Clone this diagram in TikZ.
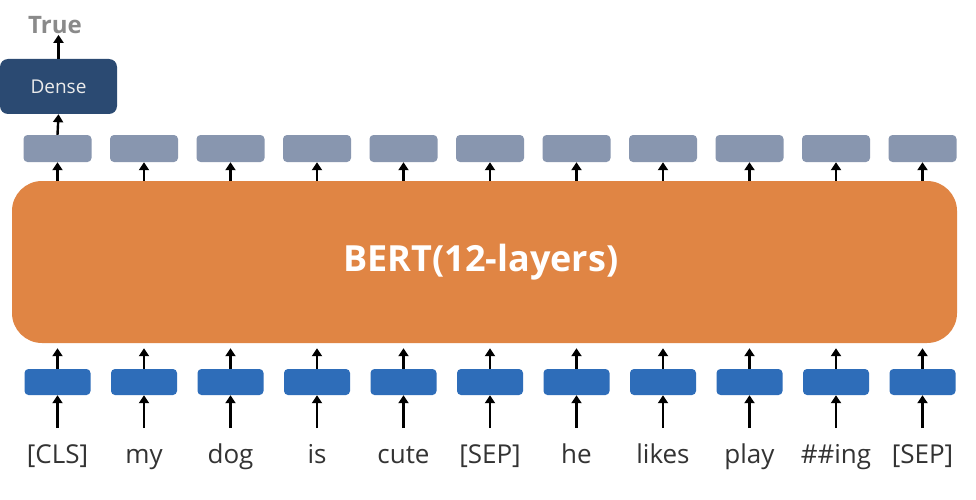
\documentclass[tikz,border=0pt]{standalone}
\usepackage{fontspec}
\setmainfont{Open Sans}
\usetikzlibrary{arrows.meta,calc}
\definecolor{bertorange}{HTML}{E08544}
\definecolor{outgray}{HTML}{8896AF}
\definecolor{embblue}{HTML}{2E6DB9}
\definecolor{densenavy}{HTML}{2B4A72}
\definecolor{wordgray}{HTML}{333333}
\definecolor{truegray}{HTML}{8A8A8A}
\tikzset{
  arr/.style={line width=2.4pt,-{Triangle[width=10pt,length=8pt]}},
  outbox/.style={fill=outgray,rounded corners=4pt,minimum width=68pt,minimum height=27pt,inner sep=0pt},
  embbox/.style={fill=embblue,rounded corners=4pt,minimum width=66pt,minimum height=26pt,inner sep=0pt},
  word/.style={text=wordgray,font=\fontsize{26}{30}\selectfont,inner sep=0pt,anchor=base},
}
\begin{document}
\begin{tikzpicture}[x=1pt,y=-1pt]
\path[fill=white] (0,0) rectangle (976,500);
\useasboundingbox (0,0) rectangle (976,500);
\node[fill=bertorange,rounded corners=30pt,minimum width=945pt,minimum height=162pt,inner sep=0pt] (bert) at (484.5,262) {};
\node[text=white,font=\bfseries\fontsize{36}{40}\selectfont,inner sep=0pt] (bertlabel) at (481,262) {BERT(12-layers)};
\node[fill=densenavy,rounded corners=8pt,minimum width=117pt,minimum height=55pt,inner sep=0pt,
  text=white!92!black,font=\fontsize{19}{22}\selectfont] (dense) at (58.5,86.5) {Dense};
\node[text=truegray,font=\bfseries\fontsize{24}{28}\selectfont,inner sep=1pt] (true) at (55,25) {True};
\foreach \w [count=\i from 0] in {[CLS],my,dog,is,cute,[SEP],he,likes,play,\#\#ing,[SEP]} {
  \pgfmathsetmacro{\xx}{57.5+86.5*\i}
  \node[outbox] (g\i) at (\xx,148.5) {};
  \node[embbox] (b\i) at (\xx,382) {};
  \node[word] (w\i) at (\xx,463) {\w};
  \coordinate (wt\i) at (\xx,428);
  \draw[arr] (wt\i) -- (b\i.south);
  \draw[arr] (b\i.north) -- ($(b\i.north |- bert.south)+(0,5)$);
  \draw[arr] (g\i.south |- bert.north) -- (g\i.south);
}
\draw[arr] (g0.north) -- (dense.south);
\draw[arr] (dense.north) -- (dense.north |- true.south);
\end{tikzpicture}
\end{document}
